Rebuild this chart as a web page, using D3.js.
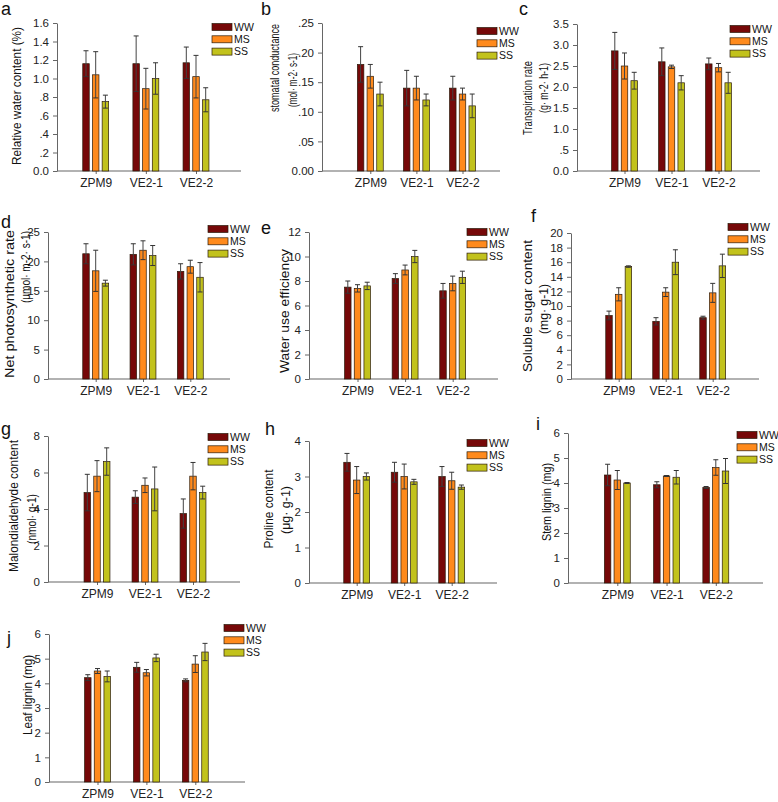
<!DOCTYPE html>
<html>
<head>
<meta charset="utf-8">
<script src="https://cdn.jsdelivr.net/npm/d3@7"></script>
<style>
  body { margin: 0; background: #fff; }
  svg text { font-family: "Liberation Sans", Arial, sans-serif; }
</style>
</head>
<body>
<svg id="chart" width="778" height="802"></svg>
<script>
const categories = ["ZPM9", "VE2-1", "VE2-2"];
const treatments = ["WW", "MS", "SS"];

// means [category][treatment] and sd
const rwcMean = [[1.16, 1.04, 0.75], [1.16, 0.89, 1.00], [1.17, 1.02, 0.77]];
const rwcSd = [[0.14, 0.25, 0.07], [0.30, 0.22, 0.17], [0.17, 0.23, 0.13]];
const gsMean = [[0.18, 0.16, 0.13], [0.14, 0.14, 0.12], [0.14, 0.13, 0.11]];
const gsSd = [[0.03, 0.02, 0.02], [0.03, 0.02, 0.01], [0.02, 0.01, 0.02]];
const trMean = [[2.86, 2.50, 2.15], [2.60, 2.48, 2.10], [2.55, 2.46, 2.10]];
const trSd = [[0.44, 0.31, 0.20], [0.33, 0.04, 0.17], [0.14, 0.10, 0.25]];
const pnMean = [[21.3, 18.4, 16.3], [21.2, 21.9, 21.0], [18.3, 19.1, 17.3]];
const pnSd = [[1.7, 3.5, 0.5], [1.8, 1.6, 1.7], [1.3, 1.1, 2.5]];
const wueMean = [[7.5, 7.4, 7.6], [8.2, 8.9, 10.0], [7.2, 7.8, 8.3]];
const wueSd = [[0.5, 0.3, 0.3], [0.4, 0.4, 0.5], [0.6, 0.6, 0.5]];
const sugarMean = [[8.7, 11.6, 15.4], [7.9, 11.9, 16.0], [8.4, 11.8, 15.5]];
const sugarSd = [[0.6, 0.9, 0.1], [0.5, 0.6, 1.7], [0.2, 1.3, 1.6]];
const mdaMean = [[4.9, 5.8, 6.6], [4.65, 5.3, 5.1], [3.75, 5.8, 4.9]];
const mdaSd = [[1.0, 0.85, 0.75], [0.35, 0.4, 1.2], [0.8, 0.75, 0.35]];
const proMean = [[3.4, 2.9, 3.0], [3.12, 3.0, 2.85], [3.0, 2.88, 2.7]];
const proSd = [[0.25, 0.38, 0.1], [0.28, 0.35, 0.07], [0.28, 0.24, 0.06]];
const stemMean = [[4.32, 4.12, 4.0], [3.93, 4.28, 4.23], [3.82, 4.62, 4.48]];
const stemSd = [[0.43, 0.38, 0.02], [0.12, 0.02, 0.27], [0.04, 0.31, 0.5]];
const leafMean = [[4.23, 4.5, 4.28], [4.65, 4.43, 5.03], [4.12, 4.78, 5.27]];
const leafSd = [[0.12, 0.1, 0.22], [0.2, 0.13, 0.15], [0.06, 0.34, 0.35]];

// y tick values and labels
const rwcTicks = [0, 0.2, 0.4, 0.6, 0.8, 1.0, 1.2, 1.4, 1.6];
const rwcTickLabels = ["0.0", ".2", ".4", ".6", ".8", "1.0", "1.2", "1.4", "1.6"];
const gsTicks = [0, 0.05, 0.10, 0.15, 0.20, 0.25];
const gsTickLabels = ["0.00", ".05", ".10", ".15", ".20", ".25"];
const trTicks = [0, 0.5, 1.0, 1.5, 2.0, 2.5, 3.0, 3.5];
const trTickLabels = ["0.0", ".5", "1.0", "1.5", "2.0", "2.5", "3.0", "3.5"];
const pnTicks = [0, 5, 10, 15, 20, 25];
const wueTicks = [0, 2, 4, 6, 8, 10, 12];
const sugarTicks = [0, 2, 4, 6, 8, 10, 12, 14, 16, 18, 20];
const mdaTicks = [0, 2, 4, 6, 8];
const proTicks = [0, 1, 2, 3, 4];
const ligninTicks = [0, 1, 2, 3, 4, 5, 6];

const colors = ["#760808", "#ff8a1c", "#c2c21c"];

const panels = [
  { id: "a", mean: rwcMean, sd: rwcSd, ticks: rwcTicks, labels: rwcTickLabels,
    title: ["Relative water content (%)"] },
  { id: "b", mean: gsMean, sd: gsSd, ticks: gsTicks, labels: gsTickLabels,
    title: ["stomatal  conductance", "(mol\u00b7  m-2\u00b7  s-1)"] },
  { id: "c", mean: trMean, sd: trSd, ticks: trTicks, labels: trTickLabels,
    title: ["Transpiration rate", "(g\u00b7  m-2\u00b7  h-1)"] },
  { id: "d", mean: pnMean, sd: pnSd, ticks: pnTicks,
    title: ["Net  photosynthetic rate", "(\u03bcmol\u00b7  m-2\u00b7  s-1)"] },
  { id: "e", mean: wueMean, sd: wueSd, ticks: wueTicks,
    title: ["Water use efficiency"] },
  { id: "f", mean: sugarMean, sd: sugarSd, ticks: sugarTicks,
    title: ["Soluble sugar content", "(mg\u00b7  g-1)"] },
  { id: "g", mean: mdaMean, sd: mdaSd, ticks: mdaTicks,
    title: ["Malondialdehyde content", "(nmol\u00b7  g-1)"] },
  { id: "h", mean: proMean, sd: proSd, ticks: proTicks,
    title: ["Proline content", "(\u03bcg\u00b7  g-1)"] },
  { id: "i", mean: stemMean, sd: stemSd, ticks: ligninTicks,
    title: ["Stem lignin (mg)"] },
  { id: "j", mean: leafMean, sd: leafSd, ticks: ligninTicks,
    title: ["Leaf lignin (mg)"] }
];

// layout: axis x, axis end, top, bottom, first/last group centre,
// title lines [x, centre y, length, font], letter position, legend position
const layout = {
  a: { x0: 57, x1: 241, yT: 23, yB: 171, c0: 95.7, c2: 196, tl: [[16, 96, 138, 13.5]], lt: [1, 15], lg: [212, 27] },
  b: { x0: 322, x1: 500, yT: 23, yB: 171, c0: 370.3, c2: 462.5, tl: [[275, 68, 88, 12.5], [293, 80, 54, 12.5]], lt: [261, 15], lg: [477, 31] },
  c: { x0: 577, x1: 760, yT: 24, yB: 171, c0: 624.5, c2: 718.5, tl: [[528, 98, 74, 12.5], [544, 88, 50, 12.5]], lt: [519, 15], lg: [730, 29] },
  d: { x0: 48, x1: 230, yT: 232, yB: 379, c0: 95.7, c2: 190.3, tl: [[9, 304, 148, 13.5], [26, 267, 72, 12.5]], lt: [1, 228], lg: [208, 229] },
  e: { x0: 309, x1: 498, yT: 232, yB: 379, c0: 357.5, c2: 452.7, tl: [[284, 311, 124, 13.5]], lt: [261, 234], lg: [467, 232] },
  f: { x0: 571, x1: 759, yT: 233, yB: 379, c0: 618.7, c2: 712.7, tl: [[527, 306, 132, 13.5], [544, 309, 50, 12.5]], lt: [531, 222], lg: [728, 227] },
  g: { x0: 48, x1: 240, yT: 436, yB: 582, c0: 97, c2: 193, tl: [[13, 506, 132, 13], [32, 519, 50, 12.5]], lt: [1, 435], lg: [208, 437] },
  h: { x0: 309, x1: 497, yT: 441, yB: 583, c0: 356.7, c2: 451.7, tl: [[268, 509, 79, 13], [286, 510, 48, 12.5]], lt: [265, 435], lg: [467, 443] },
  i: { x0: 568, x1: 763, yT: 433, yB: 583, c0: 617.3, c2: 715.8, tl: [[547, 502, 78, 12.5]], lt: [536, 430], lg: [737, 435] },
  j: { x0: 49, x1: 245, yT: 634, yB: 782, c0: 97.5, c2: 195.3, tl: [[28, 695, 80, 12.5]], lt: [7, 644], lg: [224, 628] }
};

const svg = d3.select("#chart");
const axisColor = "#666";
const fontFam = "'Liberation Sans', Arial, sans-serif";

panels.forEach(p => {
  const L = layout[p.id];
  const g = svg.append("g");

  const x = d3.scalePoint().domain(categories).range([L.c0, L.c2]);
  const inner = d3.scaleBand().domain(treatments).range([-12.95, 12.95]).paddingInner(0.33);
  const y = d3.scaleLinear()
    .domain([0, p.ticks[p.ticks.length - 1]])
    .range([L.yB, L.yT]);

  // y axis
  const yAxis = d3.axisLeft(y)
    .tickValues(p.ticks)
    .tickSize(4)
    .tickSizeOuter(0)
    .tickPadding(4)
    .tickFormat((d, i) => p.labels ? p.labels[i] : d3.format("d")(d));
  const ya = g.append("g").attr("transform", `translate(${L.x0},0)`).call(yAxis);
  ya.selectAll("path, line").attr("stroke", axisColor);
  ya.selectAll("text").attr("font-size", 11.5).attr("fill", "#222").attr("font-family", fontFam);

  // x axis
  const xa = g.append("g").attr("transform", `translate(0,${L.yB})`)
    .call(d3.axisBottom(x).tickSize(3).tickSizeOuter(0).tickPadding(4));
  xa.select(".domain").remove();
  xa.selectAll("line").attr("stroke", axisColor);
  xa.selectAll("text").attr("font-size", 12).attr("fill", "#222").attr("font-family", fontFam);
  g.append("line")
    .attr("x1", L.x0).attr("x2", L.x1)
    .attr("y1", L.yB).attr("y2", L.yB)
    .attr("stroke", axisColor).attr("stroke-width", 1.2);

  // bars
  categories.forEach((cat, ci) => {
    treatments.forEach((t, ti) => {
      const m = p.mean[ci][ti];
      const s = p.sd[ci][ti];
      const bx = x(cat) + inner(t);
      const cx = bx + inner.bandwidth() / 2;
      g.append("rect")
        .attr("x", bx).attr("y", y(m))
        .attr("width", inner.bandwidth())
        .attr("height", y(0) - y(m))
        .attr("fill", colors[ti])
        .attr("stroke", "#2a1a0a").attr("stroke-width", 0.7);
      // error bar
      g.append("line")
        .attr("x1", cx).attr("x2", cx)
        .attr("y1", y(m - s)).attr("y2", y(m + s))
        .attr("stroke", "#444").attr("stroke-width", 1);
      [m - s, m + s].forEach(v => {
        g.append("line")
          .attr("x1", cx - 2.5).attr("x2", cx + 2.5)
          .attr("y1", y(v)).attr("y2", y(v))
          .attr("stroke", "#333").attr("stroke-width", 1);
      });
    });
  });

  // y title (squeezed along its length like the source)
  p.title.forEach((line, i) => {
    const [tx, ty, len, fs] = L.tl[i];
    g.append("text")
      .attr("transform", `translate(${tx},${ty}) rotate(-90)`)
      .attr("text-anchor", "middle")
      .attr("dy", "0.35em")
      .attr("font-size", fs)
      .attr("textLength", len)
      .attr("lengthAdjust", "spacingAndGlyphs")
      .attr("fill", "#111")
      .text(line);
  });

  // panel letter
  g.append("text")
    .attr("x", L.lt[0]).attr("y", L.lt[1])
    .attr("font-size", 18)
    .attr("fill", "#111")
    .text(p.id);

  // legend
  treatments.forEach((t, ti) => {
    const ly = L.lg[1] + ti * 12.3;
    g.append("rect")
      .attr("x", L.lg[0]).attr("y", ly - 3.5)
      .attr("width", 20).attr("height", 7)
      .attr("fill", colors[ti])
      .attr("stroke", "#2a1a0a").attr("stroke-width", 0.7);
    g.append("text")
      .attr("x", L.lg[0] + 22).attr("y", ly)
      .attr("dy", "0.35em")
      .attr("font-size", 10.5)
      .attr("fill", "#111")
      .text(t);
  });
});
</script>
</body>
</html>
